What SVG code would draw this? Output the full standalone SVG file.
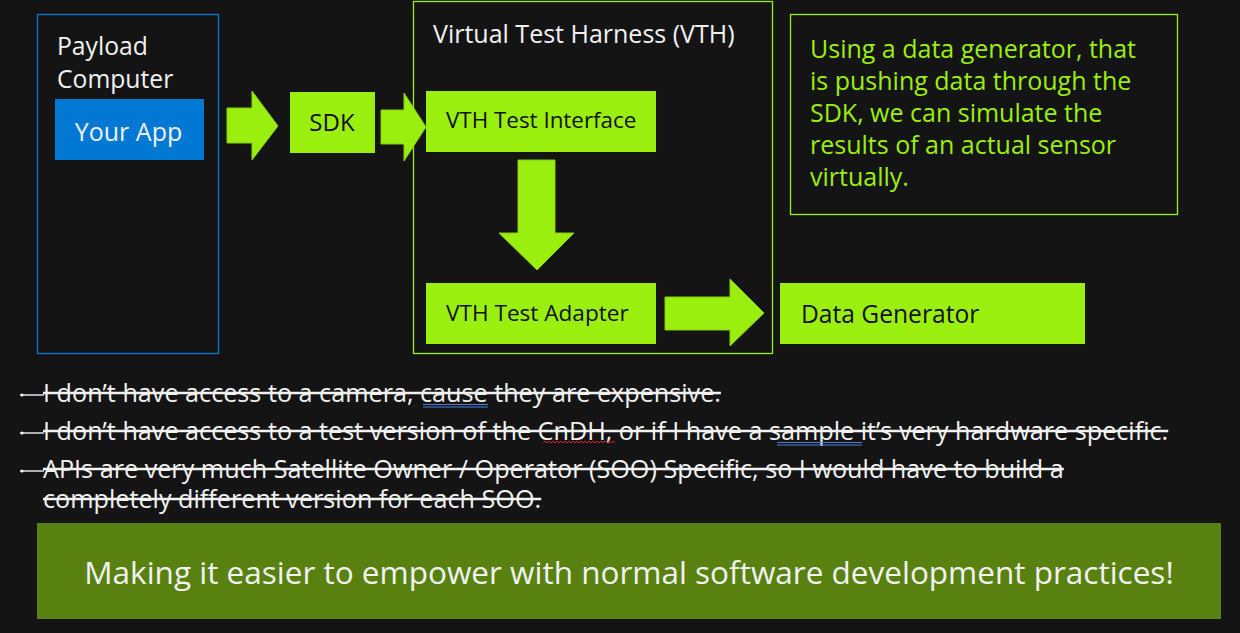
<svg xmlns="http://www.w3.org/2000/svg" width="1240" height="633" viewBox="0 0 1240 633">
  <style>
    .t { font-family: "Open Sans", "Noto Sans", "Liberation Sans", sans-serif; }
    .light { fill: #f2f2f2; }
    .dark { fill: #111111; }
    .lime { fill: #9bef0f; }
    .frame { fill: none; stroke-width: 1.3; }
    .block { fill: #9bef0f; }
    .arrow { fill: #9bef0f; stroke: #86cf0c; stroke-width: 1; stroke-linejoin: miter; }
    .struck { text-decoration: line-through; font-size: 25.2px; }
    .strike { stroke: #f2f2f2; stroke-width: 1.4; }
    .spell { stroke: #4d7fd9; stroke-width: 1.2; fill: none; }
  </style>

  <rect width="1240" height="633" fill="#141414"/>

  <!-- Payload computer host -->
  <g id="payload-computer">
    <rect class="frame" x="37.5" y="14.5" width="181" height="339" stroke="#0078d4"/>
    <text class="t light" x="57" y="55" font-size="24.7">Payload</text>
    <text class="t light" x="57" y="88" font-size="24.7">Computer</text>
  </g>

  <g id="your-app">
    <rect x="55" y="99" width="149" height="61" fill="#0078d4"/>
    <text class="t light" x="128.5" y="141" font-size="25" text-anchor="middle">Your App</text>
  </g>

  <g id="sdk">
    <rect class="block" x="290" y="92" width="85" height="61"/>
    <text class="t dark" x="332" y="131" font-size="24" text-anchor="middle">SDK</text>
  </g>

  <!-- Virtual test harness container -->
  <g id="vth">
    <rect class="frame" x="413.5" y="1.5" width="359" height="352" stroke="#9bef0f"/>
    <text class="t light" x="433" y="43" font-size="25">Virtual Test Harness (VTH)</text>
  </g>

  <g id="vth-test-interface">
    <rect class="block" x="426" y="91" width="230" height="61"/>
    <text class="t dark" x="446" y="128" font-size="22.4">VTH Test Interface</text>
  </g>

  <g id="vth-test-adapter">
    <rect class="block" x="426" y="283" width="230" height="61"/>
    <text class="t dark" x="446" y="321" font-size="22.6">VTH Test Adapter</text>
  </g>

  <g id="data-generator">
    <rect class="block" x="780" y="283" width="305" height="61"/>
    <text class="t dark" x="801" y="323" font-size="24.6">Data Generator</text>
  </g>

  <g id="callout">
    <rect class="frame" x="790.5" y="14.5" width="387" height="200" stroke="#9bef0f"/>
    <text class="t lime" font-size="25">
      <tspan x="810" y="58">Using a data generator, that</tspan>
      <tspan x="810" y="90">is pushing data through the</tspan>
      <tspan x="810" y="122">SDK, we can simulate the</tspan>
      <tspan x="810" y="154">results of an actual sensor</tspan>
      <tspan x="810" y="186">virtually.</tspan>
    </text>
  </g>

  <!-- Block arrows between stages -->
  <g id="connectors">
    <polygon class="arrow" points="227,108 252,108 252,91 278,126 252,160 252,143 227,143"/>
    <polygon class="arrow" points="381,110 404,110 404,93 426,127 404,161 404,144 381,144"/>
    <polygon class="arrow" points="518,160 555,160 555,233 574,233 537,270 499,233 518,233"/>
    <polygon class="arrow" points="665,297 730,297 730,279 764,313 730,346 730,330 665,330"/>
  </g>

  <!-- Struck-through bullet list -->
  <g id="bullets">
    <circle cx="22" cy="395" r="1.6" fill="#f2f2f2"/>
    <line class="strike" x1="20" y1="395" x2="44" y2="395"/>
    <text class="t light struck" x="43" y="402">I don’t have access to a camera, cause they are expensive.</text>

    <circle cx="22" cy="433" r="1.6" fill="#f2f2f2"/>
    <line class="strike" x1="20" y1="433" x2="44" y2="433"/>
    <text class="t light struck" x="43" y="440">I don’t have access to a test version of the CnDH, or if I have a sample it’s very hardware specific.</text>

    <circle cx="22" cy="471" r="1.6" fill="#f2f2f2"/>
    <line class="strike" x1="20" y1="471" x2="44" y2="471"/>
    <text class="t light struck" x="43" y="478">APIs are very much Satellite Owner / Operator (SOO) Specific, so I would have to build a</text>
    <text class="t light struck" x="43" y="508">completely different version for each SOO.</text>

    <!-- proofing marks -->
    <line class="spell" x1="423" y1="404.5" x2="488" y2="404.5"/>
    <line class="spell" x1="423" y1="407" x2="488" y2="407" stroke="#2f5fb8"/>
    <polyline points="543,443 545,441 547,443 549,441 551,443 553,441 555,443 557,441 559,443 561,441 563,443 565,441 567,443 569,441 571,443 573,441 575,443 577,441 579,443 581,441 583,443 585,441 587,443 589,441 591,443 593,441 595,443 597,441 599,443 601,441 603,443 605,441 607,443 609,441 611,443 613,441 615,443" fill="none" stroke="#e02020" stroke-width="0.9"/>
    <line class="spell" x1="777" y1="442.5" x2="862" y2="442.5"/>
    <line class="spell" x1="777" y1="445" x2="862" y2="445" stroke="#2f5fb8"/>
  </g>

  <g id="banner">
    <rect x="37" y="523" width="1184" height="96" fill="#588110"/>
    <text class="t light" x="629" y="584" font-size="31.5" text-anchor="middle">Making it easier to empower with normal software development practices!</text>
  </g>
</svg>
